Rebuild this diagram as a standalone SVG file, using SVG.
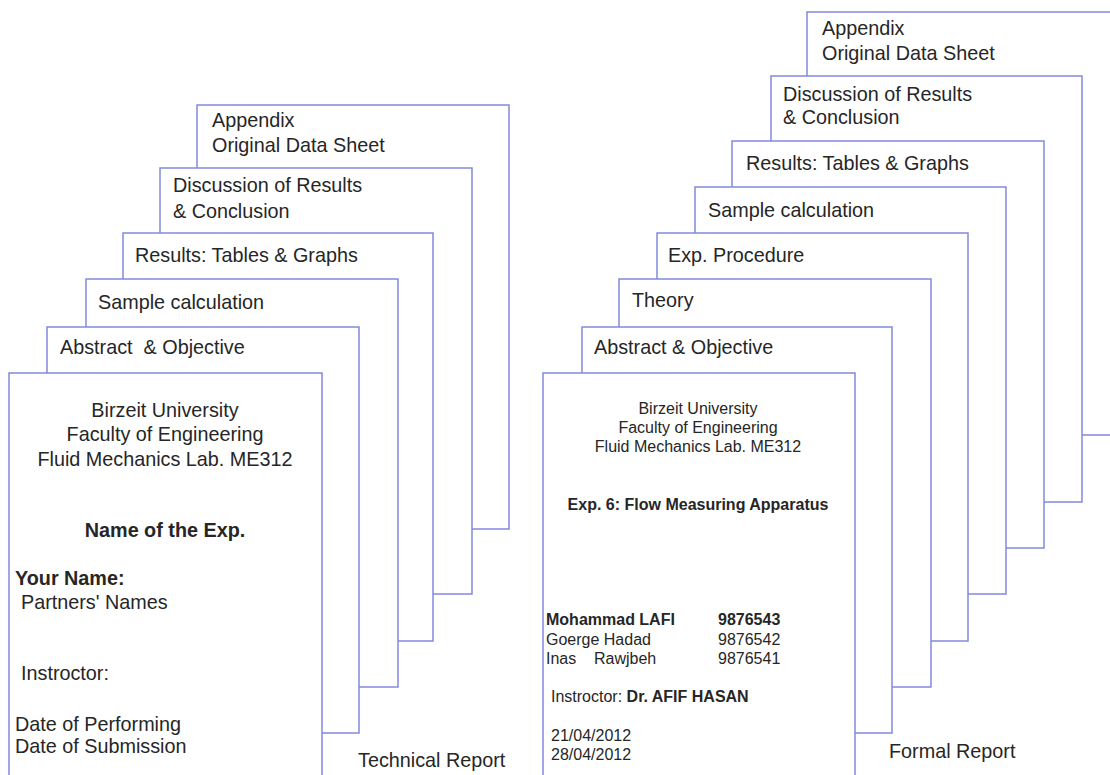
<svg xmlns="http://www.w3.org/2000/svg" width="1110" height="775" viewBox="0 0 1110 775">
<style>
.pg{fill:#ffffff;stroke:#8389dd;stroke-width:1.5}
.t{font-family:"Liberation Sans",Arial,sans-serif;font-size:19.8px;fill:#262626}
.s{font-family:"Liberation Sans",Arial,sans-serif;font-size:16px;fill:#262626}
.b{font-weight:bold}
.c{text-anchor:middle}
</style>
<rect width="1110" height="775" fill="#ffffff"/>
<g id="tech-appendix"><rect class="pg" x="197" y="105" width="312" height="424"/><text class="t" x="212" y="127">Appendix</text><text class="t" x="212" y="152">Original Data Sheet</text></g>
<g id="tech-discussion"><rect class="pg" x="160" y="168" width="312" height="426"/><text class="t" x="173" y="192">Discussion of Results</text><text class="t" x="173" y="218">&amp; Conclusion</text></g>
<g id="tech-results"><rect class="pg" x="123" y="233" width="310" height="408"/><text class="t" x="135" y="262">Results: Tables &amp; Graphs</text></g>
<g id="tech-sample"><rect class="pg" x="86" y="279" width="312" height="408"/><text class="t" x="98" y="309">Sample calculation</text></g>
<g id="tech-abstract"><rect class="pg" x="47" y="327" width="312" height="406"/><text class="t" x="60" y="354" xml:space="preserve">Abstract  &amp; Objective</text></g>
<g id="tech-front"><rect class="pg" x="9" y="373" width="313" height="430"/>
<text class="t c" x="165" y="417">Birzeit University</text>
<text class="t c" x="165" y="441">Faculty of Engineering</text>
<text class="t c" x="165" y="466">Fluid Mechanics Lab. ME312</text>
<text class="t c b" x="165" y="537">Name of the Exp.</text>
<text class="t b" x="15" y="585">Your Name:</text>
<text class="t" x="21" y="609">Partners' Names</text>
<text class="t" x="21" y="680">Instroctor:</text>
<text class="t" x="15" y="731">Date of Performing</text>
<text class="t" x="15" y="753">Date of Submission</text>
</g>
<g id="tech-caption"><text class="t" x="358" y="767">Technical Report</text></g>

<g id="formal-appendix"><rect class="pg" x="807" y="12" width="320" height="423"/><text class="t" x="822" y="35">Appendix</text><text class="t" x="822" y="60">Original Data Sheet</text></g>
<g id="formal-discussion"><rect class="pg" x="771" y="76" width="311" height="426"/><text class="t" x="783" y="101">Discussion of Results</text><text class="t" x="783" y="124">&amp; Conclusion</text></g>
<g id="formal-results"><rect class="pg" x="732" y="141" width="312" height="407"/><text class="t" x="746" y="170">Results: Tables &amp; Graphs</text></g>
<g id="formal-sample"><rect class="pg" x="695" y="187" width="311" height="407"/><text class="t" x="708" y="217">Sample calculation</text></g>
<g id="formal-procedure"><rect class="pg" x="657" y="233" width="311" height="408"/><text class="t" x="668" y="262">Exp. Procedure</text></g>
<g id="formal-theory"><rect class="pg" x="619" y="279" width="312" height="408"/><text class="t" x="632" y="307">Theory</text></g>
<g id="formal-abstract"><rect class="pg" x="582" y="327" width="310" height="406"/><text class="t" x="594" y="354">Abstract &amp; Objective</text></g>
<g id="formal-front"><rect class="pg" x="543" y="373" width="312" height="430"/>
<text class="s c" x="698" y="414">Birzeit University</text>
<text class="s c" x="698" y="433">Faculty of Engineering</text>
<text class="s c" x="698" y="452">Fluid Mechanics Lab. ME312</text>
<text class="s c b" x="698" y="510">Exp. 6: Flow Measuring Apparatus</text>
<text class="s b" x="546" y="625">Mohammad LAFI<tspan x="718">9876543</tspan></text>
<text class="s" x="546" y="645">Goerge Hadad<tspan x="718">9876542</tspan></text>
<text class="s" x="546" y="664">Inas<tspan x="594">Rawjbeh</tspan><tspan x="718">9876541</tspan></text>
<text class="s" x="551" y="702">Instroctor: <tspan class="b">Dr. AFIF HASAN</tspan></text>
<text class="s" x="551" y="741">21/04/2012</text>
<text class="s" x="551" y="760">28/04/2012</text>
</g>
<g id="formal-caption"><text class="t" x="889" y="758">Formal Report</text></g>
<g id="connectors"></g>
</svg>
